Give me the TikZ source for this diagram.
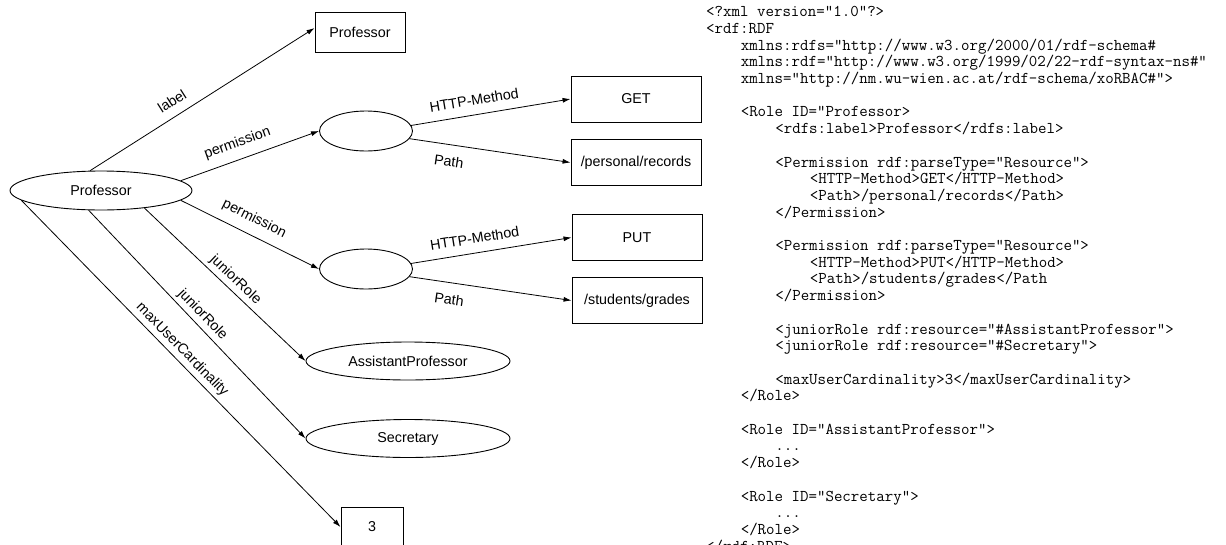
\documentclass[tikz,border=0pt]{standalone}
\usepackage{fontspec}
\setmainfont{Liberation Sans}
\usetikzlibrary{arrows.meta,shapes.geometric}
\newcommand\indA{\hspace*{2.1em}}
\newcommand\indB{\hspace*{4.2em}}
\newcommand\indC{\hspace*{6.3em}}
\begin{document}
\begin{tikzpicture}[x=1pt,y=-1pt,
  every node/.style={font=\fontsize{14.3}{17}\selectfont},
  rbox/.style={draw,line width=0.9pt,rectangle,inner sep=0pt,minimum width=130pt,minimum height=46pt},
  ell/.style={draw,ellipse,line width=0.9pt,inner sep=0pt},
  arr/.style={line width=0.8pt,-{Latex[length=8pt,width=5pt]}},
  lab/.style={sloped,inner sep=9pt},
  labn/.style={sloped,inner sep=3.5pt},
  labb/.style={sloped,inner sep=11pt}]
\clip (0,0) rectangle (1226,544);
\fill[white] (0,0) rectangle (1226,544);
% nodes
\node[ell,minimum width=182pt,minimum height=39pt] (prof) at (101,190.5) {Professor};
\node[rbox,minimum width=90pt,minimum height=40pt] (pbox) at (360,32) {Professor};
\node[ell,minimum width=93pt,minimum height=40pt] (e1) at (366,131) {};
\node[ell,minimum width=93pt,minimum height=40pt] (e2) at (366,269) {};
\node[rbox] (get) at (636,99) {GET};
\node[rbox] (per) at (636,162.5) {/personal/records};
\node[rbox] (put) at (637,237.5) {PUT};
\node[rbox] (stu) at (637,300.5) {/students/grades};
\node[ell,minimum width=204pt,minimum height=38pt] (ap) at (408,361) {AssistantProfessor};
\node[ell,minimum width=204pt,minimum height=38pt] (sec) at (408,438.5) {Secretary};
\node[rbox,minimum width=62pt,minimum height=40pt] (b3) at (372,527) {3};
% edges
\draw[arr] (prof.119) -- node[lab,pos=0.40,above]{label} (pbox.175);
\draw[arr] (prof.7.5) -- node[lab,pos=0.45,above]{permission} (e1.west);
\draw[arr] (prof.-7.8) -- node[lab,pos=0.48,above]{permission} (e2.west);
\draw[arr] (prof.-22) -- node[labn,pos=0.52,above]{juniorRole} (ap.west);
\draw[arr] (prof.-122) -- node[labn,pos=0.49,above]{juniorRole} (sec.west);
\draw[arr] (prof.-173) -- node[labn,pos=0.48,above]{maxUserCardinality} (b3.west);
\draw[arr] (e1.7.7) -- node[lab,pos=0.41,above]{HTTP-Method} (get.west);
\draw[arr] (e1.-10.6) -- node[labb,pos=0.26,below]{Path} (per.west);
\draw[arr] (e2.7.7) -- node[lab,pos=0.41,above]{HTTP-Method} (put.west);
\draw[arr] (e2.-10.6) -- node[labb,pos=0.26,below]{Path} (stu.west);
% code listing
\node[anchor=north west,inner sep=0pt,align=left,
      font=\ttfamily\fontsize{16.46}{16.7}\selectfont] (code) at (706,4.5) {%
\rule{0pt}{12pt}<?xml version="1.0"?>\\
<rdf:RDF\\
\indA xmlns:rdfs="http://www.w3.org/2000/01/rdf-schema\#\\
\indA xmlns:rdf="http://www.w3.org/1999/02/22-rdf-syntax-ns\#"\\
\indA xmlns="http://nm.wu-wien.ac.at/rdf-schema/xoRBAC\#">\\
\mbox{}\\
\indA <Role ID="Professor>\\
\indB <rdfs:label>Professor</rdfs:label>\\
\mbox{}\\
\indB <Permission rdf:parseType="Resource">\\
\indC <HTTP-Method>GET</HTTP-Method>\\
\indC <Path>/personal/records</Path>\\
\indB </Permission>\\
\mbox{}\\
\indB <Permission rdf:parseType="Resource">\\
\indC <HTTP-Method>PUT</HTTP-Method>\\
\indC <Path>/students/grades</Path\\
\indB </Permission>\\
\mbox{}\\
\indB <juniorRole rdf:resource="\#AssistantProfessor">\\
\indB <juniorRole rdf:resource="\#Secretary">\\
\mbox{}\\
\indB <maxUserCardinality>3</maxUserCardinality>\\
\indA </Role>\\
\mbox{}\\
\indA <Role ID="AssistantProfessor">\\
\indB ...\\
\indA </Role>\\
\mbox{}\\
\indA <Role ID="Secretary">\\
\indB ...\\
\indA </Role>\\
</rdf:RDF>};
\end{tikzpicture}
\end{document}
